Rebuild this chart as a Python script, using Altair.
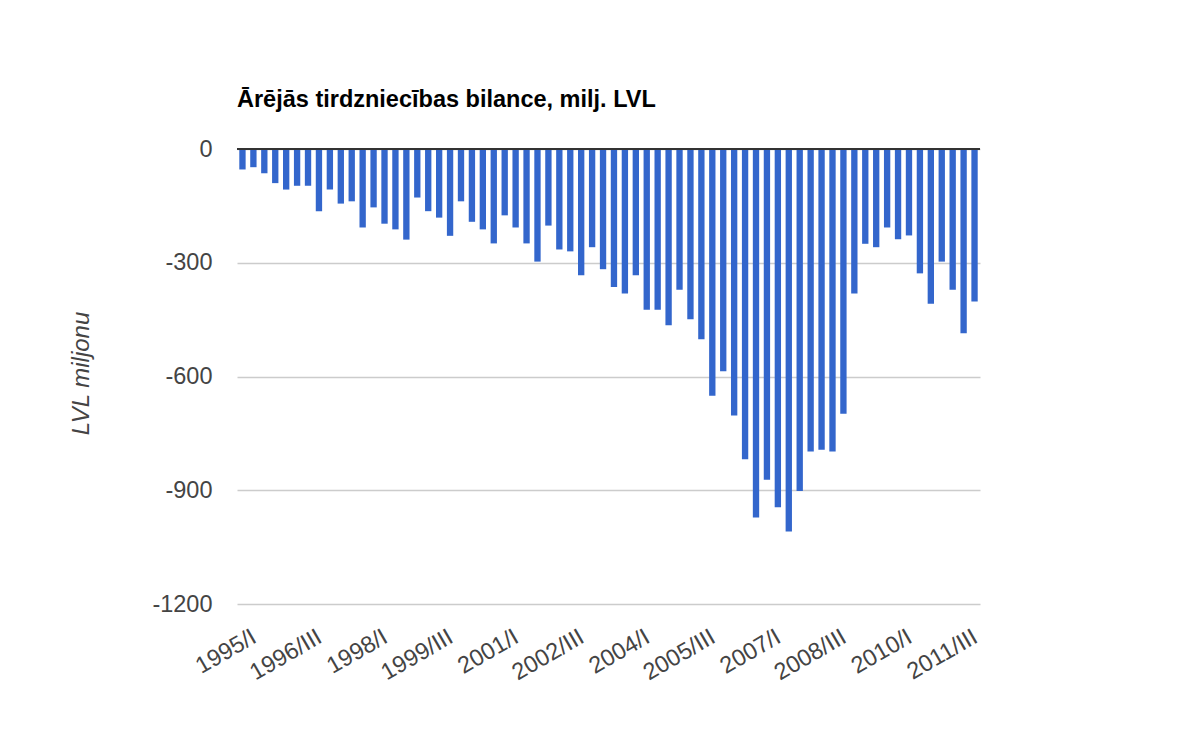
import altair as alt
import pandas as pd

years = list(range(1995, 2012))
roman = ["I", "II", "III", "IV"]
quarters = [f"{y}/{q}" for y in years for q in roman]

balance = [
    -54, -48, -64, -90, -107, -97, -97, -164, -107, -144, -138, -207,
    -154, -197, -212, -239, -128, -164, -181, -229, -138, -192, -212, -249,
    -175, -207, -249, -297, -202, -265, -270, -333, -259, -317, -364, -381,
    -333, -424, -424, -465, -371, -449, -502, -651, -586, -703, -818, -972,
    -872, -945, -1009, -902, -798, -793, -798, -698, -381, -250, -259, -207,
    -238, -228, -328, -408, -297, -371, -486, -402,
]

tick_labels = ["1995/I", "1996/III", "1998/I", "1999/III", "2001/I", "2002/III",
               "2004/I", "2005/III", "2007/I", "2008/III", "2010/I", "2011/III"]
y_ticks = [0, -300, -600, -900, -1200]

df = pd.DataFrame({"quarter": quarters, "value": balance})

FONT = "Liberation Sans"

x_enc = alt.X(
    "quarter:N",
    sort=quarters,
    scale=alt.Scale(paddingInner=0.42, paddingOuter=0.21),
    axis=alt.Axis(
        values=tick_labels, title=None, ticks=False, domain=False,
        labelAngle=-30, labelAlign="right", labelBaseline="middle",
        labelPadding=31, labelOffset=12, labelOverlap=False, labelFlush=False,
        labelFont=FONT, labelFontSize=23.5, labelColor="#444444", grid=False,
    ),
)

y_enc = alt.Y(
    "value:Q",
    scale=alt.Scale(domain=[-1200, 0], nice=False),
    axis=alt.Axis(
        values=y_ticks, title="LVL miljonu", ticks=False, domain=False,
        labelExpr="datum.value + ''",
        labelPadding=25, labelFont=FONT, labelFontSize=23.5, labelColor="#444444",
        gridColor="#cccccc", gridWidth=1.5,
        titleFont=FONT, titleFontSize=24, titleFontStyle="italic",
        titleFontWeight="normal", titleColor="#444444",
        titleAngle=-90, titleX=-156, titleY=224,
        titleAlign="center", titleBaseline="middle",
    ),
)

bars = alt.Chart(df).mark_bar(color="#3366cc").encode(x=x_enc, y=y_enc)

zero = alt.Chart(df).mark_rule(color="#333333", strokeWidth=2).encode(
    y=alt.datum(0)
)

chart = (
    alt.layer(bars, zero)
    .properties(
        width=743,
        height=455,
        background="#ffffff",
        autosize=alt.AutoSizeParams(type="none"),
        padding={"left": 229, "top": 141, "right": 180, "bottom": 120},
        title=alt.TitleParams(
            "Ārējās tirdzniecības bilance, milj. LVL",
            anchor="start", frame="group", font=FONT, fontSize=23.5,
            fontWeight="bold", color="#000000", offset=26,
        ),
    )
    .configure_view(stroke=None)
)

chart.save("out.html", embed_options={"renderer": "svg", "actions": False})
